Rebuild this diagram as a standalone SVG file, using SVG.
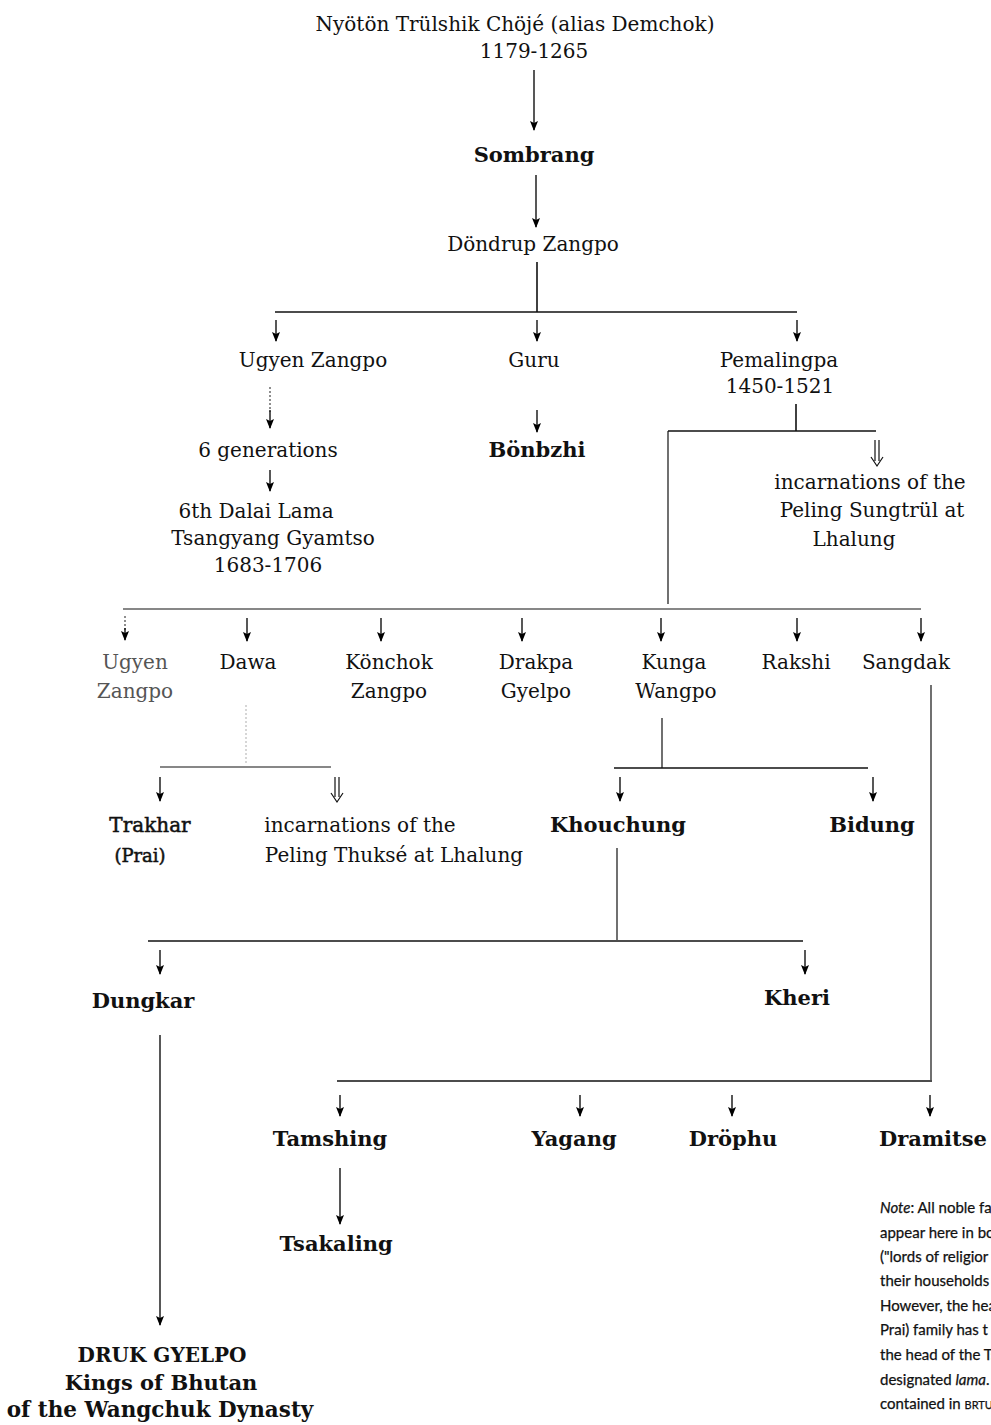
<svg xmlns="http://www.w3.org/2000/svg" width="991" height="1425" viewBox="0 0 991 1425">
<defs>
<marker id="ah" viewBox="0 0 10 8" refX="9" refY="4" markerWidth="10" markerHeight="8" markerUnits="userSpaceOnUse" orient="auto">
<path d="M0,0 L10,4 L0,8 L2,4 Z" fill="#000"/>
</marker>
<style>
text{font-family:"DejaVu Serif","Liberation Serif",serif;font-size:20px;fill:#111;text-anchor:middle}
.b{font-weight:bold;font-size:21px}
.m{stroke:#111;stroke-width:0.5}
.faint{fill:#555}
.note{font-family:"Lato","Liberation Sans",sans-serif;font-size:15px;text-anchor:start;fill:#111;stroke:#111;stroke-width:0.25}
.ln{stroke:#111;stroke-width:1.6;fill:none}
.thin{stroke:#111;stroke-width:1.2;fill:none}
.arr{stroke:#111;stroke-width:1.4;fill:none;marker-end:url(#ah)}
.dot{stroke:#444;stroke-width:1.2;fill:none;stroke-dasharray:2 2}
.dbl{stroke:#111;stroke-width:1.2;fill:none}
</style>
</defs>
<rect width="991" height="1425" fill="#fff"/>

<g id="connectors">
<line class="arr" x1="534" y1="70" x2="534" y2="130"/>
<line class="arr" x1="536" y1="175" x2="536" y2="227"/>
<line class="ln" x1="537" y1="262" x2="537" y2="312"/>
<line class="ln" x1="275" y1="312" x2="797" y2="312"/>
<line class="arr" x1="276" y1="320" x2="276" y2="341"/>
<line class="arr" x1="537" y1="320" x2="537" y2="341"/>
<line class="arr" x1="797" y1="320" x2="797" y2="341"/>
<line class="dot" x1="270" y1="387" x2="270" y2="412"/>
<line class="arr" x1="270" y1="410" x2="270" y2="428"/>
<line class="arr" x1="270" y1="470" x2="270" y2="491"/>
<line class="arr" x1="537" y1="410" x2="537" y2="432"/>
<line class="ln" x1="796" y1="404" x2="796" y2="431"/>
<line class="ln" x1="668" y1="431" x2="876" y2="431"/>
<path class="dbl" d="M875,440 V461 M879,440 V461 M871,457 L877,466 L883,457"/>
<line class="thin" x1="668" y1="431" x2="668" y2="604"/>
<line class="thin" x1="123" y1="609" x2="921" y2="609"/>
<line class="dot" x1="125" y1="616" x2="125" y2="630"/>
<line class="arr" x1="125" y1="628" x2="125" y2="640"/>
<line class="arr" x1="247" y1="618" x2="247" y2="641"/>
<line class="arr" x1="381" y1="618" x2="381" y2="641"/>
<line class="arr" x1="522" y1="618" x2="522" y2="641"/>
<line class="arr" x1="661" y1="618" x2="661" y2="641"/>
<line class="arr" x1="797" y1="618" x2="797" y2="641"/>
<line class="arr" x1="921" y1="618" x2="921" y2="641"/>
<line class="dot" x1="246" y1="705" x2="246" y2="765" style="stroke:#bbb"/>
<line class="thin" x1="160" y1="767" x2="331" y2="767"/>
<line class="arr" x1="160" y1="777" x2="160" y2="801"/>
<path class="dbl" d="M335,777 V797 M339,777 V797 M331,793 L337,802 L343,793"/>
<line class="thin" x1="662" y1="718" x2="662" y2="768"/>
<line class="ln" x1="614" y1="768" x2="868" y2="768"/>
<line class="arr" x1="620" y1="777" x2="620" y2="801"/>
<line class="arr" x1="873" y1="777" x2="873" y2="801"/>
<line class="thin" x1="931" y1="685" x2="931" y2="1080"/>
<line class="thin" x1="617" y1="848" x2="617" y2="940"/>
<line class="ln" x1="148" y1="941" x2="803" y2="941"/>
<line class="arr" x1="160" y1="950" x2="160" y2="974"/>
<line class="arr" x1="805" y1="950" x2="805" y2="974"/>
<line class="arr" x1="160" y1="1035" x2="160" y2="1325"/>
<line class="ln" x1="337" y1="1081" x2="932" y2="1081"/>
<line class="arr" x1="340" y1="1095" x2="340" y2="1116"/>
<line class="arr" x1="580" y1="1095" x2="580" y2="1116"/>
<line class="arr" x1="732" y1="1095" x2="732" y2="1116"/>
<line class="arr" x1="930" y1="1095" x2="930" y2="1116"/>
<line class="arr" x1="340" y1="1168" x2="340" y2="1224"/>
</g>

<g id="n-nyoton"><text x="515" y="31">Nyötön Trülshik Chöjé (alias Demchok)</text><text x="534" y="58">1179-1265</text></g>
<g id="n-sombrang"><text class="b" x="534" y="162">Sombrang</text></g>
<g id="n-dondrup"><text x="533" y="251">Döndrup Zangpo</text></g>
<g id="n-ugyen1"><text x="313" y="367">Ugyen Zangpo</text></g>
<g id="n-guru"><text x="534" y="367">Guru</text></g>
<g id="n-pemalingpa"><text x="779" y="367">Pemalingpa</text><text x="780" y="393">1450-1521</text></g>
<g id="n-6gen"><text x="268" y="457">6 generations</text></g>
<g id="n-dalai"><text x="256" y="518">6th Dalai Lama</text><text x="273" y="545">Tsangyang Gyamtso</text><text x="268" y="572">1683-1706</text></g>
<g id="n-bonbzhi"><text class="b" x="537" y="457">Bönbzhi</text></g>
<g id="n-sungtrul"><text x="870" y="489">incarnations of the</text><text x="872" y="517">Peling Sungtrül at</text><text x="854" y="546">Lhalung</text></g>
<g id="n-ugyen2"><text class="faint" x="135" y="669">Ugyen</text><text class="faint" x="135" y="698">Zangpo</text></g>
<g id="n-dawa"><text x="248" y="669">Dawa</text></g>
<g id="n-konchok"><text x="389" y="669">Könchok</text><text x="389" y="698">Zangpo</text></g>
<g id="n-drakpa"><text x="536" y="669">Drakpa</text><text x="536" y="698">Gyelpo</text></g>
<g id="n-kunga"><text x="674" y="669">Kunga</text><text x="676" y="698">Wangpo</text></g>
<g id="n-rakshi"><text x="796" y="669">Rakshi</text></g>
<g id="n-sangdak"><text x="906" y="669">Sangdak</text></g>
<g id="n-trakhar"><text class="m" x="150" y="832">Trakhar</text><text class="m" x="140" y="862" style="font-size:18px">(Prai)</text></g>
<g id="n-thukse"><text x="360" y="832">incarnations of the</text><text x="394" y="862">Peling  Thuksé at Lhalung</text></g>
<g id="n-khouchung"><text class="b" x="618" y="832">Khouchung</text></g>
<g id="n-bidung"><text class="b" x="872" y="832">Bidung</text></g>
<g id="n-dungkar"><text class="b" x="143" y="1008">Dungkar</text></g>
<g id="n-kheri"><text class="b" x="797" y="1005">Kheri</text></g>
<g id="n-tamshing"><text class="b" x="330" y="1146">Tamshing</text></g>
<g id="n-yagang"><text class="b" x="574" y="1146">Yagang</text></g>
<g id="n-drophu"><text class="b" x="733" y="1146">Dröphu</text></g>
<g id="n-dramitse"><text class="b" x="933" y="1146">Dramitse</text></g>
<g id="n-tsakaling"><text class="b" x="336" y="1251">Tsakaling</text></g>
<g id="n-druk"><text class="b" x="162" y="1362" style="font-size:20px">DRUK GYELPO</text><text class="b" x="161" y="1390">Kings of Bhutan</text><text class="b" x="160" y="1417" style="font-size:21.5px">of the Wangchuk Dynasty</text></g>
<g id="note">
<text class="note" x="880" y="1213"><tspan font-style="italic">Note</tspan>: All noble fa</text>
<text class="note" x="880" y="1238">appear here in bo</text>
<text class="note" x="880" y="1262">("lords of religior</text>
<text class="note" x="880" y="1286">their households</text>
<text class="note" x="880" y="1311">However, the hea</text>
<text class="note" x="880" y="1335">Prai) family has t</text>
<text class="note" x="880" y="1360">the head of the Ts</text>
<text class="note" x="880" y="1385">designated <tspan font-style="italic">lama</tspan>.</text>
<text class="note" x="880" y="1409">contained in <tspan style="font-size:11px">BRTU</tspan></text>
</g>
</svg>
